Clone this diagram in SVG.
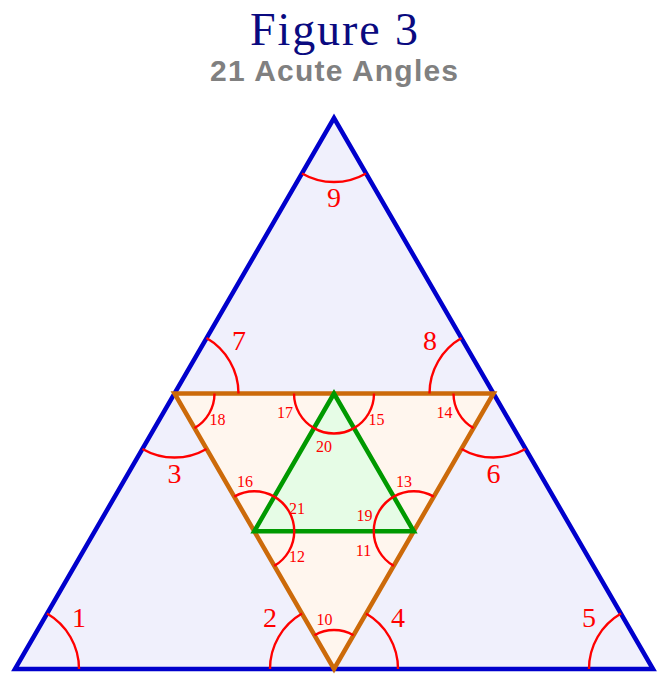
<svg xmlns="http://www.w3.org/2000/svg" width="672" height="690" viewBox="0 0 672 690">
<style>
.big{fill:#f0f0fc;stroke:#0000cc;stroke-width:4.5;stroke-linejoin:miter}
.mid{fill:#fff6ee;stroke:#cc6a0a;stroke-width:4.5;stroke-linejoin:miter}
.inner{fill:#e6fce6;stroke:#009900;stroke-width:4.5;stroke-linejoin:miter}
.arc{fill:none;stroke:#ff0000;stroke-width:2.4}
.lb{font-family:"Liberation Serif","DejaVu Serif",serif;font-size:28px;fill:#ff0000;text-anchor:middle}
.ls{font-family:"Liberation Serif","DejaVu Serif",serif;font-size:16px;fill:#ff0000;text-anchor:middle}
</style>
<rect width="672" height="690" fill="#ffffff"/>
<g id="title">
<text x="334" y="45" font-family="'Liberation Serif','DejaVu Serif',serif" font-size="46" fill="#0a0a80" text-anchor="middle" textLength="168">Figure 3</text>
<text x="334" y="81" font-family="'Liberation Sans','DejaVu Sans',sans-serif" font-size="30" font-weight="bold" fill="#808080" text-anchor="middle" textLength="248">21 Acute Angles</text>
</g>
<g id="outer-triangle"><polygon class="big" points="15,669 653,669 334,118"/></g>
<g id="middle-triangle"><polygon class="mid" points="174.5,393.5 493.5,393.5 334,669"/></g>
<g id="inner-triangle"><polygon class="inner" points="334,393.5 254.25,531.25 413.75,531.25"/></g>
<g id="arcs">
<path class="arc" d="M79,669 A64,64 0 0 0 47,613.57"/>
<path class="arc" d="M589,669 A64,64 0 0 1 621,613.57"/>
<path class="arc" d="M302,173.43 A64,64 0 0 0 366,173.43"/>
<path class="arc" d="M270,669 A64,64 0 0 1 302,613.57"/>
<path class="arc" d="M366,613.57 A64,64 0 0 1 398,669"/>
<path class="arc" d="M314.5,635.23 A39,39 0 0 1 353.5,635.23"/>
<path class="arc" d="M238.5,393.5 A64,64 0 0 0 206.5,338.07"/>
<path class="arc" d="M142.5,448.93 A64,64 0 0 0 206.5,448.93"/>
<path class="arc" d="M214.5,393.5 A40,40 0 0 1 194.5,428.14"/>
<path class="arc" d="M429.5,393.5 A64,64 0 0 1 461.5,338.07"/>
<path class="arc" d="M461.5,448.93 A64,64 0 0 0 525.5,448.93"/>
<path class="arc" d="M453.5,393.5 A40,40 0 0 0 473.5,428.14"/>
<path class="arc" d="M294,393.5 A40,40 0 0 0 314,428.14"/>
<path class="arc" d="M314,428.14 A40,40 0 0 0 354,428.14"/>
<path class="arc" d="M354,428.14 A40,40 0 0 0 374,393.5"/>
<path class="arc" d="M234.25,496.61 A40,40 0 0 1 274.25,496.61"/>
<path class="arc" d="M274.25,496.61 A40,40 0 0 1 294.25,531.25"/>
<path class="arc" d="M294.25,531.25 A40,40 0 0 1 274.25,565.89"/>
<path class="arc" d="M433.75,496.61 A40,40 0 0 0 393.75,496.61"/>
<path class="arc" d="M393.75,496.61 A40,40 0 0 0 373.75,531.25"/>
<path class="arc" d="M373.75,531.25 A40,40 0 0 0 393.75,565.89"/>
</g>
<g id="labels">
<text class="lb" x="79" y="627">1</text>
<text class="lb" x="270" y="627">2</text>
<text class="lb" x="174.5" y="483">3</text>
<text class="lb" x="398" y="627">4</text>
<text class="lb" x="589" y="627">5</text>
<text class="lb" x="493.5" y="483">6</text>
<text class="lb" x="239" y="350">7</text>
<text class="lb" x="430" y="350">8</text>
<text class="lb" x="334" y="207">9</text>
<text class="ls" x="324.5" y="625">10</text>
<text class="ls" x="363.5" y="555.5">11</text>
<text class="ls" x="297" y="562">12</text>
<text class="ls" x="404" y="487">13</text>
<text class="ls" x="444.5" y="418">14</text>
<text class="ls" x="376.5" y="425">15</text>
<text class="ls" x="245" y="487">16</text>
<text class="ls" x="285" y="418">17</text>
<text class="ls" x="217.5" y="425">18</text>
<text class="ls" x="364.5" y="520.5">19</text>
<text class="ls" x="324" y="451.5">20</text>
<text class="ls" x="297" y="514">21</text>
</g>
</svg>
